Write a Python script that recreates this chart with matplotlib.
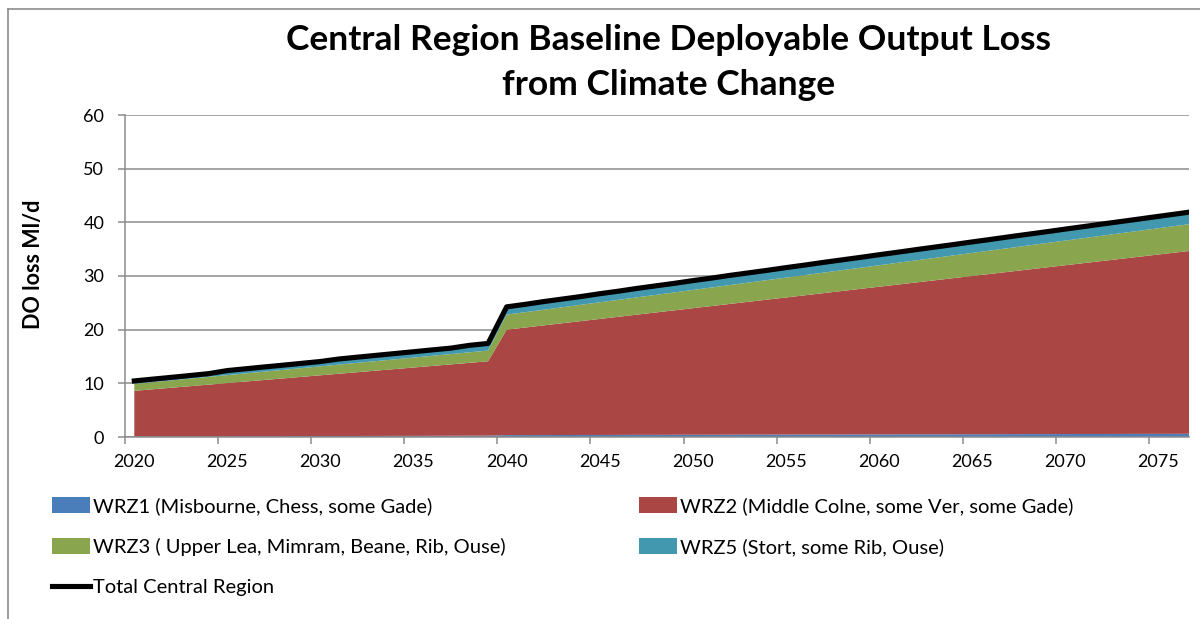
import numpy as np
import matplotlib
matplotlib.use("Agg")
import matplotlib.pyplot as plt
from matplotlib.lines import Line2D

plt.rcParams["font.family"] = ["Lato", "DejaVu Sans"]

# data (Ml/d)
years = list(range(2020, 2078))

wrz1 = [0.10, 0.11, 0.12, 0.12, 0.13, 0.14, 0.15, 0.15, 0.16, 0.17,
        0.18, 0.18, 0.19, 0.20, 0.21, 0.21, 0.22, 0.23, 0.24, 0.25,
        0.35, 0.36, 0.36, 0.37, 0.38, 0.38, 0.39, 0.40, 0.40, 0.41,
        0.42, 0.42, 0.43, 0.44, 0.44, 0.45, 0.46, 0.46, 0.47, 0.48,
        0.48, 0.49, 0.50, 0.50, 0.51, 0.52, 0.52, 0.53, 0.54, 0.54,
        0.55, 0.56, 0.56, 0.57, 0.58, 0.58, 0.59, 0.60]

wrz2 = [8.50, 8.78, 9.06, 9.35, 9.63, 9.91, 10.19, 10.48, 10.76, 11.04,
        11.32, 11.61, 11.89, 12.17, 12.45, 12.74, 13.02, 13.30, 13.58, 13.86,
        19.65, 20.04, 20.44, 20.83, 21.22, 21.62, 22.01, 22.40, 22.80, 23.19,
        23.58, 23.98, 24.37, 24.76, 25.16, 25.55, 25.94, 26.34, 26.73, 27.12,
        27.52, 27.91, 28.30, 28.70, 29.09, 29.48, 29.88, 30.27, 30.66, 31.06,
        31.45, 31.84, 32.24, 32.63, 33.02, 33.42, 33.81, 34.20]

wrz3 = [1.30, 1.34, 1.37, 1.41, 1.45, 1.48, 1.52, 1.56, 1.59, 1.63,
        1.67, 1.70, 1.74, 1.78, 1.81, 1.85, 1.89, 1.92, 1.96, 2.00,
        2.80, 2.86, 2.92, 2.98, 3.04, 3.10, 3.16, 3.22, 3.28, 3.34,
        3.40, 3.46, 3.52, 3.58, 3.64, 3.70, 3.76, 3.82, 3.88, 3.94,
        4.00, 4.06, 4.12, 4.18, 4.24, 4.30, 4.36, 4.42, 4.48, 4.54,
        4.60, 4.66, 4.72, 4.78, 4.84, 4.90, 4.96, 5.02]

wrz5 = [0.55, 0.56, 0.57, 0.58, 0.60, 0.85, 0.86, 0.87, 0.88, 0.89,
        0.90, 1.05, 1.06, 1.07, 1.08, 1.09, 1.10, 1.11, 1.30, 1.32,
        1.45, 1.46, 1.52, 1.53, 1.54, 1.60, 1.61, 1.67, 1.68, 1.69,
        1.74, 1.75, 1.80, 1.81, 1.82, 1.86, 1.87, 1.91, 1.92, 1.93,
        1.96, 1.97, 2.00, 2.01, 2.02, 2.05, 2.06, 2.09, 2.10, 2.11,
        2.14, 2.15, 2.17, 2.18, 2.19, 2.21, 2.22, 2.24]

labels = ["WRZ1 (Misbourne, Chess, some Gade)",
          "WRZ2 (Middle Colne, some Ver, some Gade)",
          "WRZ3 ( Upper Lea, Mimram, Beane, Rib, Ouse)",
          "WRZ5 (Stort, some Rib, Ouse)"]
colors = ["#4A7EBB", "#AA4643", "#89A54E", "#4198AF"]

total = np.array(wrz1) + np.array(wrz2) + np.array(wrz3) + np.array(wrz5)

fig = plt.figure(figsize=(12, 6.19), dpi=100)
ax = fig.add_axes([125 / 1200, 1 - 437 / 619, 1064 / 1200, 322 / 619])

areas = ax.stackplot(years, wrz1, wrz2, wrz3, wrz5, colors=colors, labels=labels)
line, = ax.plot(years, total, color="black", lw=3.7, label="Total Central Region")

ax.set_xlim(2019.5, 2076.65)
ax.set_ylim(0, 60)

grey = "#8C8C8C"
ax.set_yticks(range(0, 61, 10))
ax.yaxis.grid(True, color=grey, lw=1.1)
ax.set_axisbelow(True)
ax.tick_params(axis="y", length=5, width=1.1, color=grey, pad=10, labelsize=13)

# ticks between categories, labels on the categories
ax.set_xticks(np.arange(2019.5, 2076, 5))
ax.set_xticklabels([])
ax.set_xticks(range(2020, 2077, 5), minor=True)
ax.set_xticklabels([str(y) for y in range(2020, 2077, 5)], minor=True)
ax.tick_params(axis="x", which="major", length=5, width=1.1, color=grey)
ax.tick_params(axis="x", which="minor", length=0, pad=12, labelsize=13)

for s in ["top", "right"]:
    ax.spines[s].set_visible(False)
for s in ["left", "bottom"]:
    ax.spines[s].set_color(grey)
    ax.spines[s].set_linewidth(1.1)

ax.set_ylabel("DO loss Ml/d", fontsize=15.5, fontweight="bold")
ax.yaxis.set_label_coords((44 - 125) / 1064, (437 - 264) / 322)

# title, two lines placed by baseline
fig.text(669 / 1200, 1 - 50 / 619, "Central Region Baseline Deployable Output Loss",
         ha="center", va="baseline", fontsize=25.5, fontweight="bold")
fig.text(669 / 1200, 1 - 95 / 619, "from Climate Change",
         ha="center", va="baseline", fontsize=25.5, fontweight="bold")

# legend (matplotlib fills column by column)
fig.legend(handles=[areas[0], areas[2], line, areas[1], areas[3]],
           labels=[labels[0], labels[2], "Total Central Region", labels[1], labels[3]],
           ncol=2, loc="upper left", bbox_to_anchor=(34 / 1200, 1 - 479 / 619),
           frameon=False, fontsize=14.5, handlelength=1.9, handleheight=0.85,
           handletextpad=0.15, labelspacing=1.12, columnspacing=6.6)

# chart border
fig.add_artist(Line2D([8 / 1200, 8 / 1200], [0, 1 - 9 / 619], transform=fig.transFigure,
                      color=grey, lw=1.2))
fig.add_artist(Line2D([8 / 1200, 1], [1 - 9 / 619, 1 - 9 / 619], transform=fig.transFigure,
                      color=grey, lw=1.2))

fig.savefig("out.png", dpi=100)
